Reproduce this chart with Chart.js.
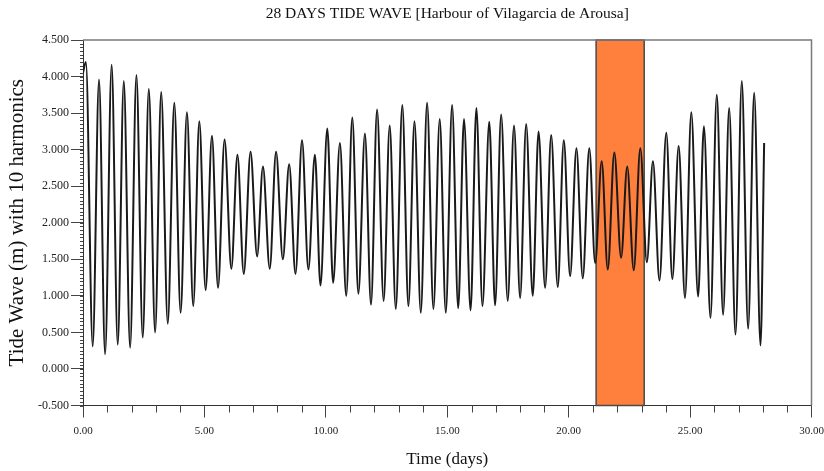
<!DOCTYPE html>
<html>
<head>
<meta charset="utf-8">
<script src="https://cdn.jsdelivr.net/npm/chart.js@4.4.1/dist/chart.umd.min.js"></script>
<style>
  html, body { margin: 0; padding: 0; background: #ffffff; }
  #wrap { width: 824px; height: 471px; }
</style>
</head>
<body>
<div id="wrap"><canvas id="c" width="824" height="471"></canvas></div>
<script>
// ---- Data (alternating high / low water extremes) ----
const timeDays = [0,
  0.12, 0.40, 0.66, 0.91, 1.18, 1.43, 1.68, 1.94, 2.20, 2.46, 2.71, 2.97, 3.22, 3.49,
  3.76, 4.02, 4.28, 4.54, 4.79, 5.05, 5.31, 5.56, 5.83, 6.11, 6.36, 6.62, 6.90, 7.17,
  7.41, 7.69, 7.95, 8.23, 8.49, 8.75, 9.02, 9.28, 9.55, 9.78, 10.06, 10.30, 10.58, 10.84,
  11.09, 11.34, 11.61, 11.86, 12.11, 12.38, 12.63, 12.88, 13.15, 13.40, 13.65, 13.91,
  14.17, 14.43, 14.69, 14.94, 15.20, 15.45, 15.69, 15.96, 16.20, 16.45, 16.73, 16.97,
  17.22, 17.49, 17.75, 18.00, 18.25, 18.52, 18.76, 19.03, 19.28, 19.55, 19.80, 20.06,
  20.32, 20.58, 20.85, 21.09, 21.36, 21.61, 21.88, 22.16, 22.41, 22.68, 22.95, 23.22,
  23.47, 23.74, 24.02, 24.27, 24.53, 24.79, 25.05, 25.33, 25.57, 25.84, 26.10, 26.36,
  26.61, 26.87, 27.13, 27.39, 27.64, 27.90,
  28.05];
const tideLevelM = [4.05,
  4.20, 0.31, 3.96, 0.20, 4.16, 0.33, 3.94, 0.29, 4.02, 0.43, 3.83, 0.50, 3.79, 0.62,
  3.64, 0.77, 3.51, 0.86, 3.39, 1.08, 3.19, 1.11, 3.14, 1.37, 2.93, 1.30, 2.97, 1.54,
  2.77, 1.37, 2.97, 1.50, 2.80, 1.30, 3.13, 1.36, 2.93, 1.14, 3.29, 1.18, 3.09, 1.00,
  3.44, 1.03, 3.22, 0.88, 3.55, 0.93, 3.33, 0.82, 3.61, 0.86, 3.39, 0.77,
  3.64, 0.82, 3.42, 0.77, 3.61, 0.83, 3.42, 0.80, 3.57, 0.86, 3.38, 0.87,
  3.48, 0.93, 3.33, 0.97, 3.35, 1.00, 3.25, 1.11, 3.20, 1.12, 3.13, 1.27,
  3.02, 1.24, 3.02, 1.45, 2.84, 1.36, 2.96, 1.52, 2.77, 1.35, 3.02, 1.46,
  2.84, 1.21, 3.23, 1.23, 3.05, 0.97, 3.51, 0.99, 3.32, 0.70, 3.75, 0.74,
  3.57, 0.47, 3.94, 0.55, 3.78, 0.32,
  3.09];
const highlightDays = [21.13, 23.11];   // shaded window
const yTickRange = [-0.5, 4.5];
const xTickRange = [0, 30];

const chartTitle = '28 DAYS TIDE WAVE [Harbour of Vilagarcia de Arousa]';
const xTitle = 'Time (days)';
const yTitle = 'Tide Wave (m) with 10 harmonics';

const points = timeDays.map((t, i) => ({ x: t, y: tideLevelM[i] }));
const serif = "'Liberation Serif', 'Times New Roman', serif";

const framePlugin = {
  id: 'frame',
  beforeDatasetsDraw(chart) {
    const { ctx, chartArea: a, scales: { x } } = chart;
    const x0 = x.getPixelForValue(highlightDays[0]);
    const x1 = x.getPixelForValue(highlightDays[1]);
    ctx.save();
    ctx.fillStyle = '#ff7f3c';
    ctx.fillRect(x0, a.top, x1 - x0, a.bottom - a.top);
    ctx.strokeStyle = '#4a4a4a';
    ctx.lineWidth = 1.5;
    ctx.strokeRect(x0, a.top, x1 - x0, a.bottom - a.top);
    ctx.restore();
  },
  afterDraw(chart) {
    const { ctx, chartArea: a, scales: { x, y } } = chart;
    ctx.save();
    ctx.strokeStyle = '#7a7a7a';
    ctx.lineWidth = 1.5;
    ctx.beginPath();
    ctx.moveTo(a.left, a.top);
    ctx.lineTo(a.right, a.top);
    ctx.lineTo(a.right, a.bottom);
    ctx.stroke();
    ctx.strokeStyle = '#444';
    ctx.lineWidth = 1;
    ctx.beginPath();
    for (let i = 0; i <= 100; i++) {
      const v = yTickRange[0] + i * 0.05;
      const py = Math.round(y.getPixelForValue(v)) + 0.5;
      ctx.moveTo(a.left - 3, py);
      ctx.lineTo(a.left, py);
    }
    for (let d = xTickRange[0]; d <= xTickRange[1]; d++) {
      if (d % 5 === 0) continue;
      const px = Math.round(x.getPixelForValue(d)) + 0.5;
      ctx.moveTo(px, a.bottom);
      ctx.lineTo(px, a.bottom + 7);
    }
    ctx.stroke();
    ctx.restore();
  }
};

new Chart(document.getElementById('c'), {
  type: 'line',
  data: {
    datasets: [{
      data: points,
      borderColor: '#1a1a1a',
      borderWidth: 2,
      pointRadius: 0,
      cubicInterpolationMode: 'monotone',
      fill: false
    }]
  },
  options: {
    responsive: false,
    animation: false,
    events: [],
    layout: { padding: { left: 0, right: 12.5, top: 0, bottom: 1 } },
    plugins: {
      legend: { display: false },
      tooltip: { enabled: false },
      title: {
        display: true,
        text: chartTitle,
        fullSize: false,
        color: '#111',
        font: { family: serif, size: 15.5, weight: 'normal' },
        padding: { top: 5, bottom: 16.4 }
      }
    },
    scales: {
      x: {
        type: 'linear',
        min: xTickRange[0], max: xTickRange[1],
        afterFit: s => { s.height = 64.5; s.paddingLeft = 0; s.paddingRight = 0; },
        ticks: {
          stepSize: 5,
          color: '#222',
          font: { family: serif, size: 11 },
          padding: 7,
          maxRotation: 0,
          callback: v => Number(v).toFixed(2)
        },
        grid: { drawOnChartArea: false, drawTicks: true, tickLength: 12, color: '#444', lineWidth: 1 },
        border: { display: true, color: '#333', width: 1 },
        title: {
          display: true, text: xTitle, color: '#111',
          font: { family: serif, size: 17 },
          padding: { top: 0, bottom: 0 }
        }
      },
      y: {
        type: 'linear',
        min: yTickRange[0], max: yTickRange[1],
        afterFit: s => { s.width = 83; s.paddingTop = 0; s.paddingBottom = 0; },
        ticks: {
          stepSize: 0.5,
          color: '#222',
          font: { family: serif, size: 12 },
          padding: 2,
          callback: v => Number(v).toFixed(3)
        },
        grid: { drawOnChartArea: false, drawTicks: true, tickLength: 12, color: '#444', lineWidth: 1 },
        border: { display: true, color: '#333', width: 1 },
        title: {
          display: true, text: yTitle, color: '#111',
          font: { family: serif, size: 21 },
          padding: { top: 5, bottom: 0 }
        }
      }
    }
  },
  plugins: [framePlugin]
});
</script>
</body>
</html>
